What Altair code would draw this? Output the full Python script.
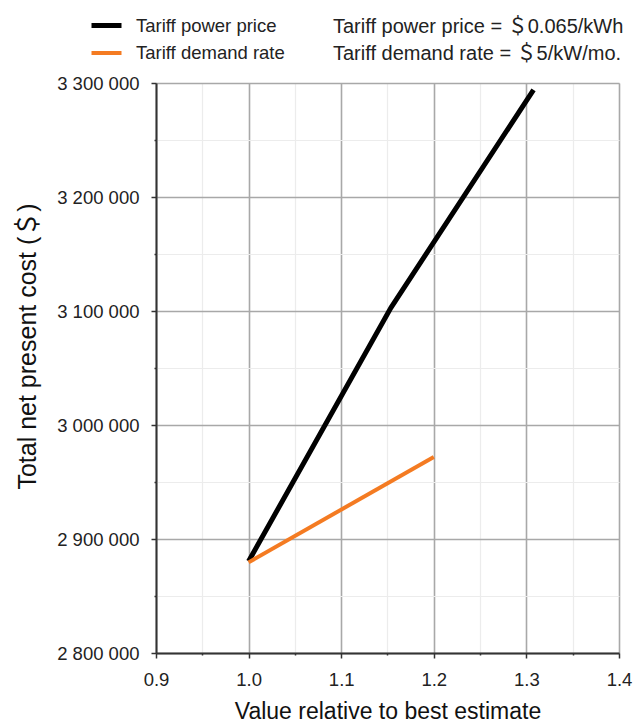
import altair as alt
import pandas as pd

# Data
power_x = [1.0, 1.1538, 1.3077]
power_y = [2880500, 3103000, 3294000]
demand_x = [1.0, 1.2]
demand_y = [2879500, 2972000]

series_names = ["Tariff power price", "Tariff demand rate"]
series_colors = ["#000000", "#f47b22"]

x_ticks = [0.9, 0.95, 1.0, 1.05, 1.1, 1.15, 1.2, 1.25, 1.3, 1.35, 1.4]
y_ticks = [2800000, 2850000, 2900000, 2950000, 3000000, 3050000,
           3100000, 3150000, 3200000, 3250000, 3300000]

note_lines = ["Tariff power price = ＄0.065/kWh", "Tariff demand rate = ＄5/kW/mo."]

df = pd.DataFrame({
    "x": power_x + demand_x,
    "y": power_y + demand_y,
    "series": [series_names[0]] * len(power_x) + [series_names[1]] * len(demand_x),
    "order": list(range(len(power_x))) + list(range(len(demand_x))),
})
notes = pd.DataFrame({"note": ["\n".join(note_lines)]})

FONT = "Liberation Sans, 'Noto Sans CJK SC'"

x_major = "abs(datum.value*10 - round(datum.value*10)) < 0.001"
y_major = "datum.value % 100000 == 0"

x_axis = alt.Axis(
    values=x_ticks,
    title="Value relative to best estimate",
    labelExpr=f"{x_major} ? format(datum.value, '.1f') : ''",
    labelFlush=False,
    labelOverlap=False,
    labelFont=FONT, labelFontSize=18.5, labelColor="#222",
    labelPadding=12,
    titleFont=FONT, titleFontSize=23, titleFontWeight="normal", titleColor="#111",
    titlePadding=12,
    grid=True,
    gridColor={"condition": {"test": x_major, "value": "#a8a8a8"}, "value": "#ececec"},
    gridWidth={"condition": {"test": x_major, "value": 1.6}, "value": 1.2},
    domainColor="#333", domainWidth=2,
    tickColor="#333",
    tickSize={"condition": {"test": x_major, "value": 5}, "value": 2},
    tickWidth=1.5,
)

y_axis = alt.Axis(
    values=y_ticks,
    title="Total net present cost (＄)",
    labelExpr=f"{y_major} ? replace(replace(format(datum.value, ','), ',', ' '), ',', ' ') : ''",
    labelFlush=False,
    labelOverlap=False,
    labelFont=FONT, labelFontSize=18.5, labelColor="#222",
    labelPadding=12,
    titleFont=FONT, titleFontSize=25, titleFontWeight="normal", titleColor="#111",
    titlePadding=16,
    titleY=263,
    grid=True,
    gridColor={"condition": {"test": y_major, "value": "#a8a8a8"}, "value": "#ececec"},
    gridWidth={"condition": {"test": y_major, "value": 1.6}, "value": 1.2},
    domainColor="#333", domainWidth=2,
    tickColor="#333",
    tickSize={"condition": {"test": y_major, "value": 5}, "value": 2},
    tickWidth=1.5,
)

lines = alt.Chart(df).mark_line(strokeCap="butt").encode(
    x=alt.X("x:Q", scale=alt.Scale(domain=[0.9, 1.4], nice=False, zero=False), axis=x_axis),
    y=alt.Y("y:Q", scale=alt.Scale(domain=[2800000, 3300000], nice=False, zero=False), axis=y_axis),
    color=alt.Color(
        "series:N",
        scale=alt.Scale(domain=series_names, range=series_colors),
        legend=alt.Legend(
            title=None,
            orient="none",
            legendX=-67,
            legendY=-75,
            symbolType="stroke",
            symbolStrokeWidth=5,
            symbolSize=900,
            labelFont=FONT, labelFontSize=18.5, labelColor="#222",
            labelOffset=12,
            rowPadding=-3,
        ),
    ),
    strokeWidth=alt.StrokeWidth(
        "series:N",
        scale=alt.Scale(domain=series_names, range=[5, 4]),
        legend=None,
    ),
    order="order:Q",
)

note_text = alt.Chart(notes).mark_text(
    align="left",
    baseline="middle",
    font=FONT,
    fontSize=20,
    color="#222",
    lineBreak="\n",
    lineHeight=27,
).encode(
    text="note:N",
    x=alt.value(177),
    y=alt.value(-56),
)

chart = alt.layer(lines, note_text).properties(
    width=463,
    height=570,
    autosize=alt.AutoSizeParams(type="none"),
    padding={"left": 156, "top": 83, "right": 14, "bottom": 70},
).configure_view(
    stroke="#555", strokeWidth=1.5
).configure(
    background="white"
)

chart.save("out.html", embed_options={"renderer": "svg", "actions": False})
